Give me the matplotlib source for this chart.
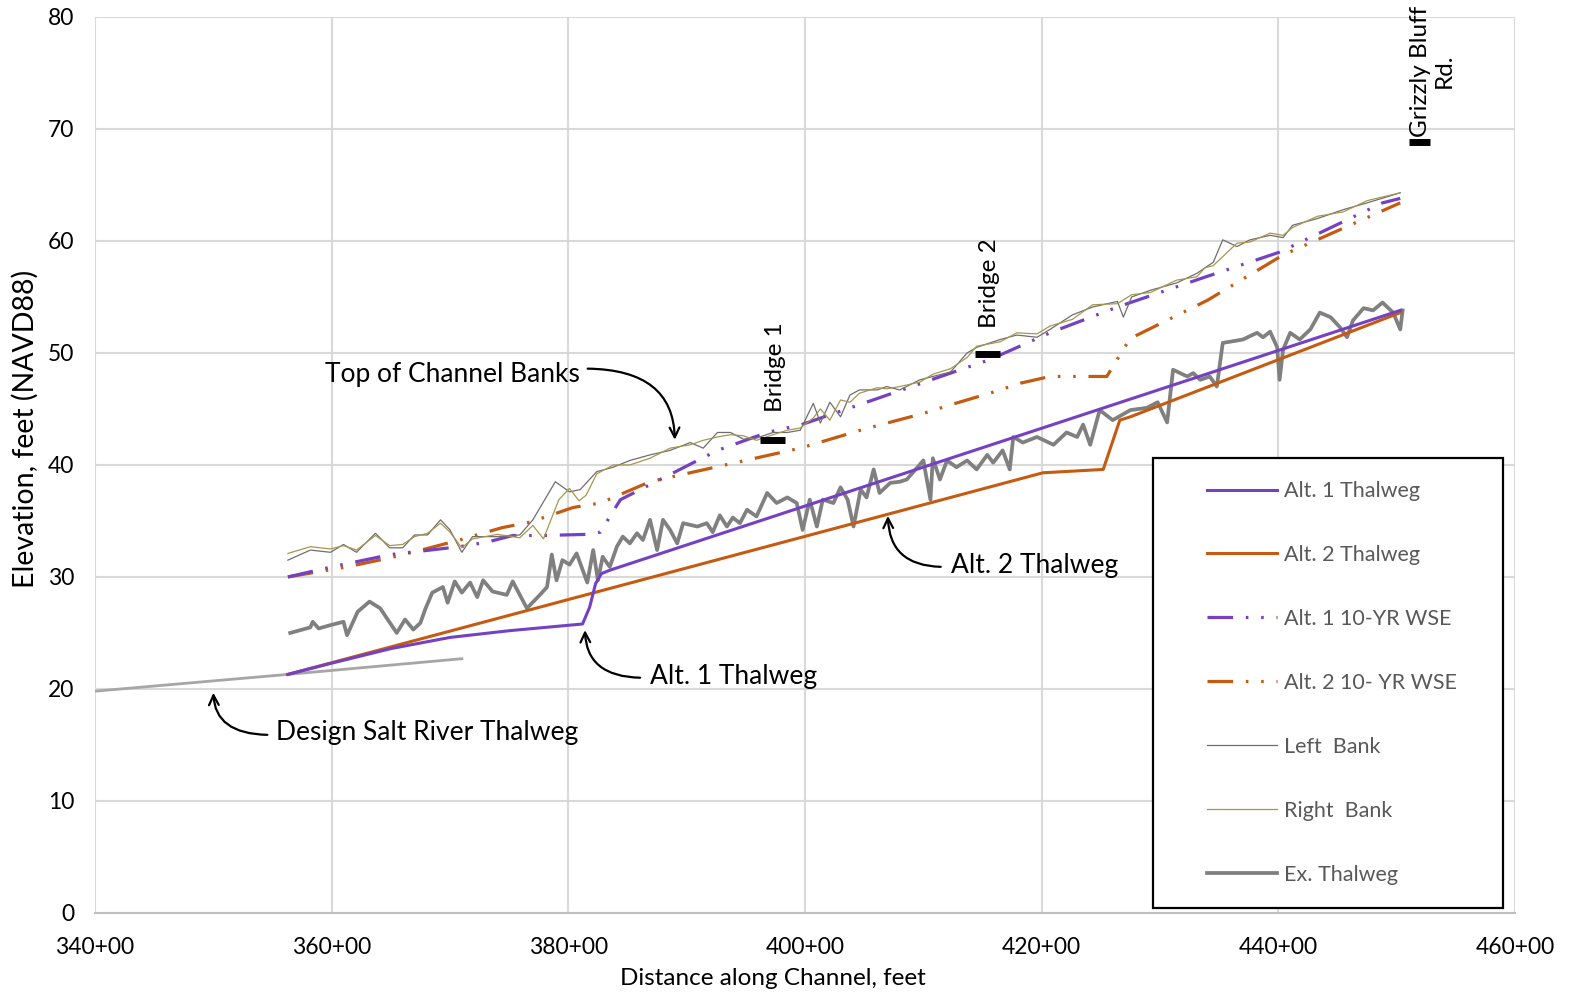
import matplotlib
matplotlib.use("Agg")
import matplotlib.pyplot as plt
from matplotlib.patches import Rectangle
from matplotlib.ticker import FixedLocator, FuncFormatter

plt.rcParams['font.family'] = ['Lato', 'DejaVu Sans']

# stations in hundreds of feet (340 -> 340+00), elevations in ft NAVD88
design_sta = [340.0, 356.3, 371.0]
design_el = [19.8, 21.3, 22.7]

alt1_sta = [356.3, 360.0, 365.0, 370.0, 375.0, 381.2, 381.8, 382.3, 382.8, 383.5, 450.3]
alt1_el = [21.3, 22.3, 23.6, 24.6, 25.2, 25.8, 27.3, 29.4, 30.3, 30.6, 53.8]

alt2_sta = [356.3, 406.3, 420.1, 425.2, 426.6, 427.5, 450.3]
alt2_el = [21.3, 35.4, 39.3, 39.6, 44.0, 44.3, 53.6]

alt1_wse_sta = [356.3, 360.0, 365.0, 370.8, 373.1, 375.3, 377.9, 381.5, 382.7, 384.4,
                392.6, 396.8, 399.7, 404.1, 412.3, 415.6, 420.7, 426.4, 433.6, 440.1,
                448.8, 450.3]
alt1_wse_el = [30.0, 30.9, 32.0, 32.7, 33.1, 33.7, 33.7, 33.8, 34.0, 36.9,
               41.3, 42.9, 43.6, 45.2, 48.2, 49.4, 51.8, 54.1, 56.7, 59.0,
               63.4, 63.8]

alt2_wse_sta = [356.3, 361.3, 364.9, 368.3, 370.8, 374.4, 376.8, 380.4, 382.7, 386.9,
                399.6, 405.0, 410.0, 412.4, 415.9, 418.2, 420.7, 425.5, 427.0, 427.5,
                434.0, 440.4, 450.3]
alt2_wse_el = [30.0, 30.9, 31.7, 32.6, 33.3, 34.4, 34.9, 36.2, 36.6, 38.5,
               41.5, 43.2, 44.6, 45.4, 46.5, 47.3, 47.9, 47.9, 50.5, 51.3,
               54.7, 58.75, 63.4]

left_sta = [356.3, 358.2, 359.9, 361.0, 362.1, 363.7, 364.9, 366.0, 367.0, 368.1,
            369.2, 370.0, 371.0, 371.9, 374.0, 375.9, 377.0, 378.9, 380.1, 381.0,
            382.4, 383.8, 385.2, 386.9, 388.6, 390.3, 391.4, 392.6, 393.7, 394.8,
            395.9, 397.3, 398.5, 399.6, 400.7, 401.3, 402.1, 403.0, 403.8, 404.6,
            406.1, 406.9, 408.0, 409.7, 410.8, 412.3, 413.7, 414.5, 416.5, 417.9,
            419.6, 420.7, 422.6, 424.3, 426.4, 426.9, 427.6, 429.2, 431.4, 433.1,
            434.5, 435.3, 436.5, 437.6, 439.3, 440.4, 441.2, 443.3, 445.5, 447.5,
            450.3]
left_el = [31.5, 32.4, 32.2, 32.9, 32.2, 33.9, 32.6, 32.6, 33.75, 33.75,
           35.1, 34.2, 32.2, 33.6, 33.6, 33.75, 35.1, 38.5, 37.6, 37.8,
           39.4, 39.8, 40.4, 40.9, 41.3, 42.0, 41.5, 42.9, 42.9, 42.3,
           42.4, 42.9, 42.9, 43.1, 45.5, 43.75, 45.6, 44.3, 46.25, 46.7,
           46.7, 47.0, 46.7, 47.6, 47.9, 48.3, 50.0, 50.5, 51.2, 51.6,
           51.4, 52.1, 53.4, 54.1, 54.6, 53.2, 55.0, 55.6, 56.25, 57.1,
           58.1, 60.1, 59.5, 60.1, 60.5, 60.3, 61.4, 62.0, 62.8, 63.4,
           64.3]

right_sta = [356.3, 358.2, 359.9, 361.0, 362.1, 363.7, 364.9, 366.0, 367.0, 368.1,
             369.2, 370.0, 371.0, 371.9, 374.0, 375.9, 377.0, 377.9, 379.2, 380.1,
             380.9, 381.5, 382.4, 383.8, 385.2, 386.9, 388.6, 390.3, 391.4, 392.6,
             393.7, 394.8, 395.9, 397.3, 398.5, 399.6, 400.7, 401.3, 402.1, 403.0,
             403.8, 404.6, 406.1, 406.9, 408.0, 409.7, 410.8, 412.3, 413.7, 414.5,
             416.5, 417.9, 419.6, 420.7, 422.6, 424.3, 426.4, 427.6, 429.2, 431.4,
             433.1, 433.8, 434.5, 435.3, 436.5, 437.6, 439.3, 440.4, 441.2, 443.3,
             445.5, 447.5, 450.3]
right_el = [32.1, 32.7, 32.5, 32.8, 32.4, 33.7, 32.8, 32.9, 33.6, 33.9,
            34.8, 34.0, 32.6, 33.4, 33.8, 33.5, 34.6, 33.4, 36.9, 37.9,
            36.8, 37.3, 39.2, 40.0, 40.0, 40.6, 41.5, 41.8, 42.2, 42.5,
            42.7, 42.6, 42.2, 42.7, 43.1, 43.3, 44.2, 45.0, 44.0, 45.8,
            45.6, 46.4, 46.9, 46.8, 47.0, 47.4, 48.1, 48.6, 49.6, 50.6,
            51.0, 51.8, 51.7, 52.4, 53.0, 54.3, 54.4, 55.2, 55.4, 56.5,
            56.8, 57.6, 57.8, 58.6, 59.8, 59.9, 60.7, 60.5, 61.2, 62.2,
            62.6, 63.6, 64.3]

ex_sta = [356.5, 358.2, 358.4, 358.9, 359.9, 361.0, 361.3, 362.2, 363.2, 364.1,
          365.5, 366.2, 366.9, 367.5, 367.9, 368.5, 369.4, 369.8, 370.4, 371.0,
          371.7, 372.3, 372.8, 373.6, 374.8, 375.3, 376.5, 377.6, 378.2, 378.6,
          379.0, 379.5, 380.1, 380.7, 381.6, 382.1, 382.5, 382.9, 383.5, 384.1,
          384.6, 385.2, 385.8, 386.3, 386.9, 387.5, 388.0, 388.6, 389.2, 389.7,
          390.9, 391.7, 392.2, 392.8, 393.4, 393.9, 394.5, 395.1, 395.9, 396.8,
          397.6, 398.5, 399.3, 399.8, 400.4, 401.0, 401.5, 402.4, 403.0, 403.6,
          404.1, 404.7, 405.2, 405.8, 406.3, 407.2, 408.0, 408.6, 410.0, 410.6,
          410.8, 411.4, 412.0, 412.8, 413.7, 414.5, 415.4, 415.9, 416.7, 417.3,
          417.6, 418.4, 419.6, 421.0, 422.1, 423.0, 423.5, 424.1, 424.9, 426.0,
          427.5, 428.9, 429.8, 430.6, 431.1, 432.3, 432.8, 433.4, 434.2, 434.8,
          435.3, 435.9, 437.0, 438.2, 438.7, 439.3, 439.9, 440.1, 440.4, 441.0,
          441.8, 442.7, 443.5, 444.4, 445.2, 445.8, 446.3, 447.2, 448.0, 448.8,
          449.7, 450.3, 450.5]
ex_el = [25.0, 25.5, 26.0, 25.4, 25.7, 26.0, 24.8, 26.9, 27.8, 27.2,
         25.0, 26.2, 25.3, 25.9, 27.1, 28.6, 29.1, 27.7, 29.6, 28.6,
         29.5, 28.2, 29.7, 28.7, 28.4, 29.6, 27.2, 28.4, 29.1, 32.0,
         29.7, 31.5, 31.1, 32.1, 29.5, 32.4, 29.7, 31.8, 30.9, 32.7,
         33.6, 33.0, 33.9, 33.3, 35.1, 32.4, 35.1, 34.2, 33.0, 34.8,
         34.5, 34.8, 34.0, 35.5, 34.5, 35.3, 34.8, 36.0, 35.4, 37.5,
         36.6, 37.1, 36.6, 34.2, 36.9, 34.5, 36.9, 36.6, 38.0, 36.9,
         34.5, 37.8, 37.1, 39.6, 37.5, 38.4, 38.5, 38.7, 40.4, 36.9,
         40.6, 38.7, 40.4, 39.8, 40.4, 39.6, 40.9, 40.2, 41.3, 39.6,
         42.5, 42.0, 42.5, 41.8, 42.9, 42.5, 43.6, 41.8, 44.9, 44.0,
         44.9, 45.1, 45.6, 43.8, 48.5, 47.9, 48.2, 47.6, 47.9, 47.0,
         50.9, 51.0, 51.2, 51.8, 51.4, 51.9, 50.5, 47.6, 50.3, 51.8,
         51.2, 52.1, 53.6, 53.2, 52.3, 51.4, 52.9, 54.0, 53.8, 54.5,
         53.6, 52.1, 53.8]

# bridge / road markers: bar from start to end station at elevation, label above
bridge_names = ["Bridge 1", "Bridge 2", "Grizzly Bluff\nRd."]
bridge_start = [396.2, 414.4, 451.0]
bridge_end = [398.3, 416.5, 452.8]
bridge_el = [42.2, 49.9, 68.8]
bridge_label_sta = [397.5, 415.6, 453.0]
bridge_label_el = [44.7, 52.2, 69.3]

x_ticks = [340, 360, 380, 400, 420, 440, 460]
y_ticks = [0, 10, 20, 30, 40, 50, 60, 70, 80]

PURPLE = '#7440C4'
ORANGE = '#C55A11'
txt_gray = '#595959'
wse_dash = (0, (8, 4, 0.8, 4, 0.8, 4))

fig = plt.figure(figsize=(15.7, 9.97), dpi=100)
ax = fig.add_axes([0.0605, 0.0843, 0.9045, 0.8987])

ax.plot(design_sta, design_el, color='#A6A6A6', lw=2.0, zorder=2)
l_ex, = ax.plot(ex_sta, ex_el, color='#808080', lw=2.7, zorder=3, label='Ex. Thalweg')
l_a2, = ax.plot(alt2_sta, alt2_el, color=ORANGE, lw=2.2, zorder=4, label='Alt. 2 Thalweg')
l_a1, = ax.plot(alt1_sta, alt1_el, color=PURPLE, lw=2.2, zorder=4, label='Alt. 1 Thalweg')
l_w2, = ax.plot(alt2_wse_sta, alt2_wse_el, color=ORANGE, lw=2.3, ls=wse_dash, zorder=4,
                label='Alt. 2 10- YR WSE')
l_w1, = ax.plot(alt1_wse_sta, alt1_wse_el, color=PURPLE, lw=2.3, ls=wse_dash, zorder=4,
                label='Alt. 1 10-YR WSE')
l_lb, = ax.plot(left_sta, left_el, color='#6E6E6E', lw=0.9, zorder=5, label='Left  Bank')
l_rb, = ax.plot(right_sta, right_el, color='#A8964E', lw=0.9, zorder=5, label='Right  Bank')

for s0, s1, el in zip(bridge_start, bridge_end, bridge_el):
    ax.plot([s0, s1], [el, el], color='black', lw=5, solid_capstyle='butt', zorder=6)
for name, sx, sy in zip(bridge_names, bridge_label_sta, bridge_label_el):
    ax.text(sx, sy, name, rotation=90, ha='center', va='bottom', fontsize=17.5,
            multialignment='center', color='black', zorder=6)

ax.set_xlim(340, 460)
ax.set_ylim(0, 80)
ax.xaxis.set_major_locator(FixedLocator(x_ticks))
ax.yaxis.set_major_locator(FixedLocator(y_ticks))
ax.xaxis.set_major_formatter(FuncFormatter(lambda v, p: f"{int(v)}+00"))
ax.tick_params(length=0, labelsize=16.5, colors='black')
ax.tick_params(axis='x', pad=17)
ax.tick_params(axis='y', pad=15)
ax.grid(True, color='#D9D9D9', lw=1.5)
ax.set_axisbelow(True)
for side in ['top', 'right', 'left']:
    ax.spines[side].set_visible(False)
ax.spines['bottom'].set_color('#BFBFBF')
ax.spines['bottom'].set_linewidth(1.5)

fig.text(0.016, 0.57, 'Elevation, feet (NAVD88)', rotation=90, ha='center', va='center',
         fontsize=20.5)
fig.text(0.492, 0.019, 'Distance along Channel, feet', ha='center', va='center',
         fontsize=17.5)

# callouts
arrow_kw = dict(arrowstyle='->,head_length=0.7,head_width=0.35', color='black', lw=1.6,
                connectionstyle='angle3,angleA=0,angleB=90')
callouts = [
    ("Top of Channel Banks", (359.4, 48.1), (381.4, 48.6), (389.0, 42.0)),
    ("Alt. 2 Thalweg", (412.3, 31.0), (411.7, 30.9), (407.0, 35.7)),
    ("Alt. 1 Thalweg", (386.9, 21.1), (386.3, 21.0), (381.4, 25.5)),
    ("Design Salt River Thalweg", (355.3, 16.1), (354.8, 15.9), (350.0, 19.9)),
]
for label, tpos, tail, head in callouts:
    ax.text(tpos[0], tpos[1], label, ha='left', va='center', fontsize=19, zorder=7)
    ax.annotate('', xy=head, xytext=tail, arrowprops=arrow_kw, zorder=7)

# legend box
ax.add_patch(Rectangle((0.745, 0.0056), 0.2465, 0.502, transform=ax.transAxes,
                       facecolor='white', edgecolor='black', lw=1.6, zorder=8))
leg = ax.legend(handles=[l_a1, l_a2, l_w1, l_w2, l_lb, l_rb, l_ex],
                loc='upper left', bbox_to_anchor=(0.783, 0.482), frameon=False,
                fontsize=15.5, labelcolor=txt_gray, handlelength=3.25, handletextpad=0.35,
                labelspacing=2.04, borderpad=0, borderaxespad=0)
leg.set_zorder(9)

fig.savefig('out.png', dpi=100)
